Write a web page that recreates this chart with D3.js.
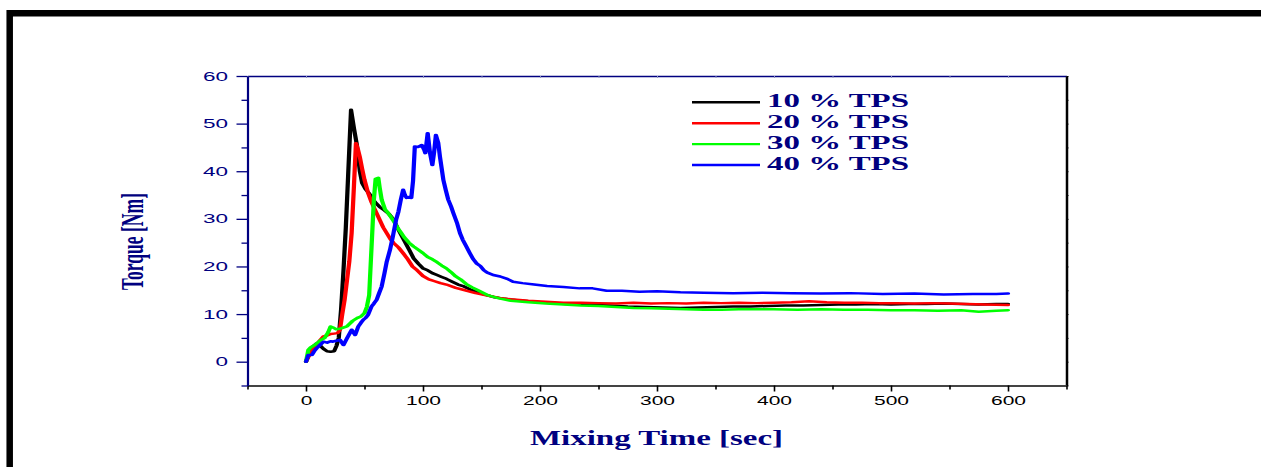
<!DOCTYPE html>
<html>
<head>
<meta charset="utf-8">
<script src="https://cdn.jsdelivr.net/npm/d3@7"></script>
<style>
  html, body { margin: 0; padding: 0; background: #fff; }
  svg { display: block; }
</style>
</head>
<body>
<svg id="chart" width="1261" height="467"></svg>
<script>
// Torque vs. mixing time for four TPS loadings: [time (s), torque (Nm)]
const tps10 = [[0,0],[3,1.8],[6,3.2],[9,3.8],[12,3.4],[15,2.7],[18,2.2],[21,2.1],[24,2.2],[26,3.3],[28,5.0],
  [30,11],[32,19],[34,28],[36,39],[38.5,52.9],[41,49],[43.5,45.5],[46,40],[48,37.5],[51,36.2],[55,35],[59,33.5],
  [63,32.5],[67,31.8],[71,31],[75,29.8],[78,28.2],[81,26.8],[84,25.4],[88,23.6],[92,21.7],[96,20.6],[100,19.6],
  [104,19.2],[108,18.6],[112,18.2],[116,17.8],[120,17.4],[125,16.8],[130,16.2],[135,15.8],[140,15.2],[145,14.8],
  [150,14.3],[160,13.6],[170,13.2],[180,12.9],[190,12.7],[200,12.5],[215,12.2],[230,12.0],[245,11.9],[260,11.8],
  [275,11.6],[290,11.5],[305,11.4],[320,11.3],[335,11.4],[350,11.5],[365,11.6],[380,11.6],[395,11.7],[410,11.8],
  [425,11.8],[440,11.9],[455,12.0],[470,12.0],[485,12.1],[500,12.0],[515,12.1],[530,12.1],[545,12.2],[560,12.1],
  [575,12.0],[590,12.1],[600,12.1]];

const tps20 = [[0,0],[3,1.5],[6,2.6],[9,3.6],[12,4.5],[15,5.3],[18,5.5],[21,5.8],[24,5.9],[27,6.0],[29,6.7],
  [31,10],[33,13],[35,17],[37,21],[39,27],[41,37],[42.7,45.9],[44.5,44.5],[46,43],[48,40.5],[50,38.2],[53,35.5],
  [56,33.5],[59,31.9],[63,29.8],[66,28.2],[69,27],[72,25.8],[75,24.9],[79,24],[83,22.8],[87,21.5],[91,20],
  [95,19.2],[100,18],[105,17.3],[110,16.9],[115,16.5],[120,16.2],[128,15.5],[136,15],[145,14.4],[155,13.9],
  [165,13.4],[175,13.1],[190,12.8],[205,12.6],[220,12.4],[235,12.4],[250,12.3],[265,12.2],[280,12.4],[295,12.2],
  [310,12.3],[325,12.2],[340,12.4],[355,12.3],[370,12.4],[385,12.3],[400,12.4],[415,12.5],[430,12.7],[445,12.5],
  [460,12.4],[475,12.4],[490,12.3],[505,12.3],[520,12.2],[535,12.3],[550,12.2],[565,12.1],[580,12.0],[600,11.9]];

const tps30 = [[0,0],[2,2.5],[4,3.0],[8,3.6],[12,4.4],[16,5.0],[19,6.2],[21,7.4],[23,7.2],[26,6.8],[30,7.0],
  [35,7.4],[40,8.6],[44,9.2],[47,9.5],[50,10.2],[52,11.5],[54,14],[56,24],[58,34],[59.5,38.4],[61.8,38.6],
  [63,36.5],[64.7,34],[67.5,32],[70,31.3],[72,30.6],[75,29.5],[78,28.2],[81,27.2],[84,26.1],[88,25],[92,24.2],
  [96,23.5],[100,22.8],[104,22],[108,21.5],[112,20.9],[116,20.2],[120,19.6],[124,18.8],[128,17.9],[132,17.3],
  [137,16.3],[142,15.6],[147,15],[155,14.0],[165,13.3],[175,12.8],[190,12.5],[205,12.2],[220,12.0],[235,11.8],
  [250,11.7],[265,11.5],[280,11.3],[295,11.2],[310,11.1],[325,11.0],[340,10.9],[355,10.9],[370,11.0],[385,11.0],
  [400,11.0],[420,10.9],[440,11.0],[460,10.9],[480,10.9],[500,10.8],[520,10.8],[540,10.7],[560,10.8],[575,10.5],
  [590,10.7],[600,10.8]];

const tps40 = [[0,0],[2,1.4],[5,1.4],[7,2.2],[9,2.8],[12,3.5],[15,4.2],[18,4.0],[21,4.3],[23,4.2],[26,4.4],
  [29,4.6],[32,3.5],[35,4.9],[37,5.8],[39,6.7],[42,5.6],[44.7,7.4],[47,8.2],[49,8.8],[51,9.2],[53,9.8],[56,11.6],
  [58,12.2],[60.4,13],[62.5,14.4],[64.7,15.8],[67,18.5],[69,21],[71.8,23.5],[74,26],[77,29.8],[79,31.5],[81,34],
  [83,36.1],[84.5,35],[86,34.4],[88,34.6],[90,34.4],[91.5,38],[93,45.2],[96,45.1],[99,45.5],[101,44.5],
  [102,43.8],[104,48],[106,43.8],[108,41.3],[109.5,44],[111,47.6],[113,46],[114.5,43],[117.4,38.2],[119.5,36],
  [121.6,34],[124,32.6],[126,31.2],[129,29.2],[131.6,27],[134,25.6],[137,24.2],[140,22.8],[143,21.5],[146,20.6],
  [149,20.1],[152,19.2],[155,18.7],[160,18.2],[166,17.9],[172,17.4],[177,16.8],[185,16.5],[195,16.2],[206,15.9],
  [220,15.7],[234,15.4],[245,15.4],[257,14.9],[270,14.9],[285,14.7],[300,14.8],[320,14.6],[340,14.5],[365,14.4],
  [390,14.5],[415,14.4],[440,14.3],[465,14.4],[493,14.2],[520,14.3],[545,14.1],[570,14.2],[590,14.2],[600,14.3]];

const seriesNames = ["10 % TPS", "20 % TPS", "30 % TPS", "40 % TPS"];
const seriesData = [tps10, tps20, tps30, tps40];
const seriesColors = ["#000000", "#ff0000", "#00ff00", "#0000ff"];

const xMajorTicks = [0, 100, 200, 300, 400, 500, 600];
const xMinorTicks = [-50, 50, 150, 250, 350, 450, 550, 650];
const yMajorTicks = [0, 10, 20, 30, 40, 50, 60];
const yMinorTicks = [-5, 5, 15, 25, 35, 45, 55];

const xTitle = "Mixing Time [sec]";
const yTitle = "Torque [Nm]";

// ---- drawing ----
const NAVY = "#000080";
const SERIF = "'Liberation Serif','Times New Roman',serif";
const SANS = "'Liberation Sans',Arial,sans-serif";
const SX = 1.7;   // horizontal stretch of the whole figure (glyphs and strokes)

const svg = d3.select("#chart");
svg.append("rect").attr("width", 1261).attr("height", 467).attr("fill", "#fff");

// outer frame (top and left edges)
svg.append("path")
  .attr("d", "M9.7,467 V13.3 H1261")
  .attr("fill", "none").attr("stroke", "#000").attr("stroke-width", 6.5);

const x = d3.scaleLinear().domain([-50, 650]).range([247.5, 1066.5]);
const y = d3.scaleLinear().domain([-5, 60]).range([385.5, 76]);

// top axis (navy, faint inward ticks)
const gTop = svg.append("g").attr("transform", `translate(0,${y(60)})`)
  .call(d3.axisTop(x).tickValues(xMinorTicks.concat(xMajorTicks)).tickSize(-2).tickSizeOuter(0).tickFormat(""));
gTop.select(".domain").attr("stroke", NAVY).attr("stroke-width", 1.6);
gTop.selectAll(".tick line").attr("stroke", "#8890c0").attr("stroke-width", 1);

// right axis (black, small outward ticks)
const gRight = svg.append("g").attr("transform", `translate(${x(650)},0)`)
  .call(d3.axisRight(y).tickValues(yMinorTicks.concat(yMajorTicks)).tickSize(2).tickSizeOuter(0).tickFormat(""));
gRight.select(".domain").attr("stroke", "#000").attr("stroke-width", 2.5);
gRight.selectAll(".tick line").attr("stroke", "#000").attr("stroke-width", 1);

// bottom axis
const gBottom = svg.append("g").attr("transform", `translate(0,${y(-5)})`)
  .call(d3.axisBottom(x).tickValues(xMajorTicks).tickSize(6).tickSizeOuter(0).tickPadding(5.2));
gBottom.select(".domain").attr("stroke", "#444").attr("stroke-width", 1.8);
gBottom.selectAll(".tick line").attr("stroke", "#000").attr("stroke-width", 1.6);
gBottom.selectAll(".tick text")
  .attr("fill", "#000").attr("font-family", SANS).attr("font-size", 12)
  .attr("transform", `scale(1.75,1)`);
svg.append("g").attr("transform", `translate(0,${y(-5)})`)
  .call(d3.axisBottom(x).tickValues(xMinorTicks).tickSize(4).tickSizeOuter(0).tickFormat(""))
  .call(g => g.select(".domain").remove())
  .selectAll(".tick line").attr("stroke", "#000").attr("stroke-width", 1.6);

// left axis (navy)
const gLeft = svg.append("g").attr("transform", `translate(${x(-50)},0)`)
  .call(d3.axisLeft(y).tickValues(yMajorTicks).tickSize(11).tickSizeOuter(0));
gLeft.select(".domain").attr("stroke", NAVY).attr("stroke-width", 2.2);
gLeft.selectAll(".tick line").attr("stroke", NAVY).attr("stroke-width", 1.3);
gLeft.selectAll(".tick text")
  .attr("fill", NAVY).attr("font-family", SANS).attr("font-size", 12.5)
  .attr("x", -19.5 / 1.8).attr("transform", "scale(1.8,1)");
svg.append("g").attr("transform", `translate(${x(-50)},0)`)
  .call(d3.axisLeft(y).tickValues(yMinorTicks).tickSize(6).tickSizeOuter(0).tickFormat(""))
  .call(g => g.select(".domain").remove())
  .selectAll(".tick line").attr("stroke", NAVY).attr("stroke-width", 1.3);

// data curves, drawn in a horizontally stretched layer
const plot = svg.append("g").attr("transform", `scale(${SX},1)`);
const line = d3.line().x(d => x(d[0]) / SX).y(d => y(d[1]));
seriesData.forEach((data, i) => {
  plot.append("path")
    .datum(data)
    .attr("d", line)
    .attr("fill", "none")
    .attr("stroke", seriesColors[i])
    .attr("stroke-width", 2.5)
    .attr("stroke-linejoin", "round")
    .attr("stroke-linecap", "round");
});

// legend
const legend = svg.append("g");
seriesNames.forEach((name, i) => {
  const ly = 102.3 + i * 20.9;
  legend.append("line")
    .attr("x1", 692).attr("x2", 760).attr("y1", ly).attr("y2", ly)
    .attr("stroke", seriesColors[i]).attr("stroke-width", 2.4);
  legend.append("text")
    .attr("x", 767).attr("y", ly + 5)
    .attr("font-family", SERIF).attr("font-weight", "bold").attr("font-size", 18)
    .attr("fill", NAVY)
    .attr("textLength", 142).attr("lengthAdjust", "spacingAndGlyphs")
    .text(name);
});

// axis titles
svg.append("text")
  .attr("x", 530).attr("y", 445)
  .attr("font-family", SERIF).attr("font-weight", "bold").attr("font-size", 20)
  .attr("fill", NAVY)
  .attr("textLength", 253).attr("lengthAdjust", "spacingAndGlyphs")
  .text(xTitle);

svg.append("text")
  .attr("transform", "translate(143,241.5) scale(1.9,1) rotate(-90)")
  .attr("text-anchor", "middle")
  .attr("font-family", SERIF).attr("font-weight", "bold").attr("font-size", 17)
  .attr("fill", NAVY)
  .attr("textLength", 97).attr("lengthAdjust", "spacingAndGlyphs")
  .text(yTitle);
</script>
</body>
</html>
